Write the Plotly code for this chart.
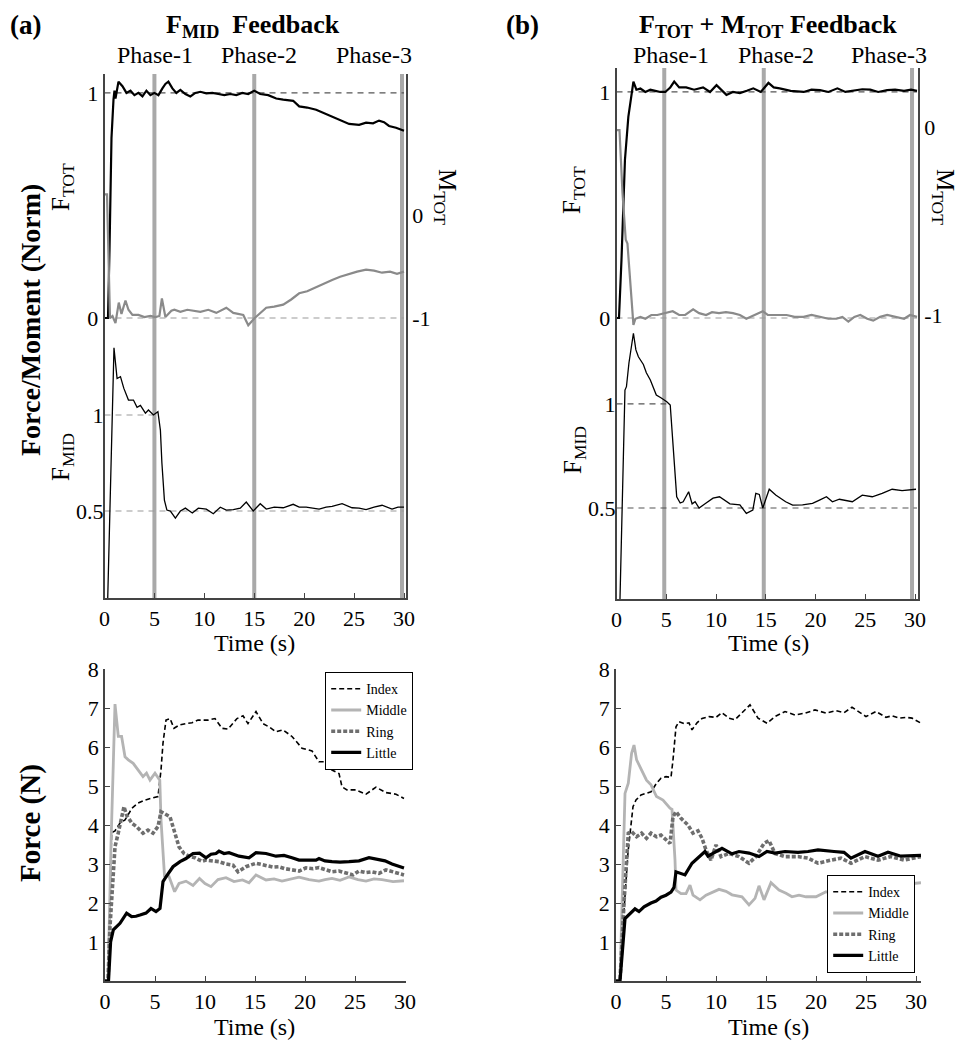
import plotly.graph_objects as go

# the page body keeps its default 8px margin, so the figure is drawn 8px in from the corner
OFF = 8
W, H = 972 - OFF, 1050 - OFF
FONT = "Liberation Serif"

# ---------------- data ----------------
# (a) F_MID feedback, top panel
a_ftot_t = [0, 0.35, 0.5, 0.7, 0.9, 1.0, 1.1, 1.4, 1.8, 2.2, 2.6, 3.0, 3.4, 3.8, 4.2, 4.6, 5.0, 5.4, 5.8, 6.1,
            6.4, 6.8, 7.2, 7.6, 8.1, 8.6, 9.1, 9.6, 10.2, 10.8, 11.4, 12.0, 12.6, 13.2, 13.8, 14.4, 15.0, 15.6,
            16.4, 17.2, 17.9, 18.9, 19.5, 20.3, 21.2, 22.0, 22.8, 23.6, 24.5, 25.5, 26.2, 26.9, 27.5, 28.0,
            28.5, 29.2, 30.0]
a_ftot = [0, 0, 0.3, 0.8, 0.97, 1.01, 0.975, 1.05, 1.03, 1.0, 1.01, 0.99, 1.0, 0.985, 1.01, 0.99, 1.0, 0.99,
          1.02, 1.04, 1.05, 1.02, 1.0, 1.013, 0.995, 0.984, 1.0, 1.005, 0.998, 1.0, 0.995, 0.99, 0.995, 0.99,
          1.0, 0.995, 1.01, 0.995, 0.99, 0.975, 0.97, 0.965, 0.94, 0.935, 0.925, 0.91, 0.895, 0.88, 0.862,
          0.858, 0.868, 0.865, 0.877, 0.87, 0.853, 0.845, 0.832]

a_mtot_t = [0, 0.25, 0.55, 0.8, 1.1, 1.43, 1.7, 2.1, 2.4, 2.8, 3.4, 4.0, 4.6, 5.1, 5.5, 5.75, 6.1, 6.7, 7.0,
            7.6, 8.3, 9.0, 9.6, 10.4, 11.2, 12.2, 12.9, 13.9, 14.4, 15.05, 15.6, 16.2, 17.0, 17.9, 18.7, 19.5,
            20.3, 21.2, 22.0, 22.8, 23.6, 24.5, 25.3, 26.2, 27.0, 27.8, 28.6, 29.3, 30.0]
a_mtot = [0.2, 0.2, -1.0, -0.98, -1.05, -0.85, -0.96, -0.83, -0.92, -0.97, -0.97, -0.99, -0.98, -0.99, -0.98,
          -0.81, -0.99, -0.93, -0.92, -0.94, -0.92, -0.93, -0.94, -0.92, -0.95, -0.9, -0.95, -0.97, -1.07,
          -1.0, -0.95, -0.9, -0.89, -0.87, -0.82, -0.76, -0.74, -0.7, -0.66, -0.63, -0.6, -0.57, -0.55,
          -0.53, -0.54, -0.56, -0.55, -0.57, -0.55]

a_fmid_t = [0, 0.3, 0.95, 1.26, 1.6, 1.93, 2.4, 2.9, 3.26, 3.6, 4.1, 4.4, 4.9, 5.35, 5.6, 5.75, 6.0, 6.25, 6.6,
            7.1, 7.6, 8.1, 8.8, 9.4, 10.2, 10.9, 11.6, 12.2, 12.9, 13.6, 14.2, 14.9, 15.6, 16.2, 17.0, 17.9,
            18.9, 19.5, 20.2, 21.0, 21.5, 22.2, 22.8, 23.8, 24.8, 25.5, 26.2, 27.0, 27.8, 28.8, 29.4, 30.0]
a_fmid = [0, 0, 1.35, 1.19, 1.2, 1.14, 1.078, 1.078, 1.04, 1.05, 1.01, 1.026, 1.0, 1.017, 0.92, 0.75, 0.557,
          0.505, 0.5, 0.463, 0.5, 0.515, 0.49, 0.515, 0.51, 0.486, 0.52, 0.505, 0.507, 0.515, 0.547, 0.5,
          0.538, 0.51, 0.52, 0.517, 0.535, 0.52, 0.52, 0.515, 0.51, 0.52, 0.524, 0.538, 0.517, 0.515, 0.507,
          0.52, 0.53, 0.51, 0.52, 0.52]

# (b) F_TOT + M_TOT feedback, top panel
b_ftot_t = [0, 0.25, 0.5, 0.69, 0.85, 1.19, 1.5, 1.7, 2.0, 2.4, 2.9, 3.4, 3.9, 4.4, 4.9, 5.4, 5.8, 6.3, 7.0,
            7.8, 8.7, 9.4, 10.05, 11.05, 11.7, 12.4, 13.1, 13.75, 14.5, 15.27, 15.8, 16.4, 17.5, 18.8, 19.6,
            20.45, 21.3, 22.2, 23.0, 23.9, 24.7, 25.5, 26.3, 27.2, 28.0, 28.9, 29.6, 30.2]
b_ftot = [0, 0, 0.257, 0.553, 0.7, 0.89, 0.995, 1.046, 1.01, 1.015, 1.0, 1.01, 1.005, 1.0, 1.0, 1.02, 1.046,
          1.02, 1.02, 1.01, 1.02, 1.0, 1.03, 0.987, 1.0, 0.995, 1.005, 1.016, 1.0, 1.04, 1.02, 1.016, 1.005,
          1.0, 1.01, 1.008, 1.0, 1.016, 1.0, 1.005, 1.012, 1.01, 1.0, 1.008, 1.01, 1.005, 1.01, 1.005]

b_mtot_t = [0, 0.3, 0.6, 0.93, 1.1, 1.3, 1.7, 1.9, 2.4, 2.9, 3.5, 4.1, 4.9, 5.65, 6.3, 6.9, 7.7, 8.3, 9.0, 9.6,
            10.3, 11.0, 11.7, 12.4, 13.05, 13.8, 14.7, 15.2, 15.7, 16.4, 17.1, 17.9, 18.8, 19.6, 20.45, 21.3,
            22.1, 22.7, 23.3, 23.9, 24.5, 25.2, 25.8, 26.5, 27.2, 28.0, 28.9, 29.5, 30.2]
b_mtot = [-0.016, -0.016, -0.35, -0.6, -0.62, -0.75, -1.053, -1.02, -1.01, -1.02, -1.0, -1.0, -0.99, -0.98,
          -1.0, -1.0, -0.97, -0.99, -1.0, -0.985, -0.99, -0.985, -0.99, -1.0, -1.02, -1.0, -0.98, -1.0, -1.0,
          -1.0, -1.0, -1.01, -1.01, -1.0, -1.01, -1.02, -1.02, -1.01, -1.035, -1.01, -1.0, -1.02, -1.03,
          -1.01, -1.0, -1.01, -1.02, -1.0, -1.01]

b_fmid_t = [0, 0.35, 0.85, 1.0, 1.25, 1.45, 1.7, 1.95, 2.2, 2.7, 3.0, 3.4, 3.7, 4.0, 4.5, 5.05, 5.4, 5.7, 6.05,
            6.4, 6.7, 7.25, 7.6, 7.9, 8.3, 8.9, 9.7, 10.35, 11.4, 12.4, 13.05, 13.7, 14.0, 14.35, 14.7, 15.35,
            16.0, 17.0, 17.7, 18.7, 19.7, 20.4, 21.1, 21.7, 22.4, 23.7, 24.7, 25.7, 26.7, 27.7, 28.7, 30.1]
b_fmid = [0, 0.06, 1.067, 1.083, 1.197, 1.26, 1.34, 1.26, 1.227, 1.19, 1.15, 1.115, 1.077, 1.043, 1.029,
          1.011, 0.995, 0.795, 0.554, 0.524, 0.53, 0.578, 0.52, 0.53, 0.5, 0.52, 0.547, 0.554, 0.52, 0.515,
          0.474, 0.49, 0.57, 0.565, 0.5, 0.59, 0.562, 0.53, 0.514, 0.515, 0.522, 0.538, 0.554, 0.53, 0.542,
          0.53, 0.562, 0.554, 0.57, 0.59, 0.583, 0.59]

# phase boundaries (s)
phase_a = [5.0, 15.0, 29.8]
phase_b = [4.8, 14.8, 29.7]
phase_labels = ["Phase-1", "Phase-2", "Phase-3"]
phase_label_x_a = [5.1, 15.5, 27.0]
phase_label_x_b = [5.5, 16.0, 27.4]

# (a) finger forces (N)
a_index_t = [0, 0.3, 0.66, 1.0, 1.5, 2.0, 2.7, 3.3, 4.0, 4.7, 5.3, 5.6, 5.8, 6.1, 6.5, 6.9, 7.4, 8.1, 8.7, 9.3,
             10.3, 11.0, 11.7, 12.3, 13.2, 13.8, 14.3, 15.1, 15.8, 16.5, 17.1, 17.8, 18.7, 19.7, 20.7, 21.4,
             22.0, 22.7, 23.4, 23.7, 24.2, 25.1, 26.1, 27.1, 28.1, 29.1, 29.9]
a_index = [0, 0, 3.8, 3.85, 4.05, 4.13, 4.43, 4.56, 4.64, 4.69, 4.73, 5.41, 6.1, 6.69, 6.73, 6.48, 6.56, 6.6,
           6.62, 6.69, 6.69, 6.73, 6.48, 6.46, 6.73, 6.8, 6.6, 6.91, 6.6, 6.5, 6.39, 6.44, 6.27, 5.97, 5.9,
           5.62, 5.62, 5.41, 5.32, 4.98, 4.9, 4.9, 4.79, 4.97, 4.83, 4.79, 4.68]

a_middle_t = [0, 0.3, 0.6, 1.0, 1.33, 1.66, 2.0, 2.33, 2.82, 3.3, 3.8, 4.15, 4.5, 5.0, 5.48, 5.6, 5.8, 5.95,
              6.4, 6.96, 7.4, 8.1, 8.8, 9.45, 10.0, 10.6, 11.3, 12.1, 12.9, 13.75, 14.4, 15.1, 16.1, 16.9,
              17.7, 18.5, 19.4, 20.4, 21.4, 22.0, 22.7, 23.5, 24.4, 25.3, 26.1, 26.9, 27.7, 28.8, 29.9]
a_middle = [0, 0, 3.5, 7.1, 6.27, 6.27, 5.75, 5.67, 5.58, 5.41, 5.24, 5.33, 5.15, 5.33, 5.15, 4.13, 3.28,
            2.7, 2.68, 2.29, 2.5, 2.56, 2.45, 2.63, 2.5, 2.42, 2.6, 2.65, 2.55, 2.59, 2.52, 2.72, 2.59, 2.62,
            2.56, 2.6, 2.66, 2.6, 2.56, 2.6, 2.63, 2.58, 2.67, 2.6, 2.56, 2.62, 2.6, 2.55, 2.57]

a_ring_t = [0, 0.3, 0.5, 1.0, 1.33, 1.66, 1.9, 2.16, 2.7, 3.15, 3.8, 4.3, 4.8, 5.3, 5.6, 5.9, 6.5, 6.9, 7.4,
            7.9, 8.4, 9.0, 9.7, 10.1, 10.7, 11.4, 12.1, 12.8, 13.3, 14.1, 15.1, 16.1, 16.8, 17.4, 18.0, 18.7,
            19.4, 20.1, 20.8, 21.4, 22.0, 22.7, 23.4, 24.1, 24.8, 25.4, 26.1, 26.7, 27.4, 28.1, 29.0, 29.9]
a_ring = [0, 0, 1.4, 3.44, 3.8, 4.21, 4.47, 4.25, 4.04, 3.96, 3.79, 3.87, 3.79, 3.96, 4.34, 4.3, 4.21, 3.87,
          3.44, 3.27, 3.2, 3.16, 3.07, 3.1, 3.08, 3.06, 3.0, 2.97, 2.8, 2.93, 3.02, 2.97, 2.92, 2.93, 2.88,
          2.85, 2.82, 2.9, 2.88, 2.91, 2.86, 2.8, 2.82, 2.76, 2.72, 2.82, 2.78, 2.8, 2.76, 2.85, 2.78, 2.72]

a_little_t = [0, 0.35, 0.56, 0.83, 1.5, 2.16, 2.66, 3.1, 3.5, 4.1, 4.6, 5.1, 5.5, 5.8, 6.1, 6.8, 7.5, 8.1,
              8.8, 9.45, 10.1, 10.6, 11.1, 11.4, 11.9, 12.4, 13.4, 14.4, 15.1, 16.1, 17.1, 17.9, 18.7, 19.4,
              20.2, 21.1, 21.4, 22.0, 22.7, 23.5, 24.4, 25.4, 26.4, 27.4, 28.0, 28.7, 29.9]
a_little = [0, 0, 1.0, 1.31, 1.48, 1.74, 1.65, 1.66, 1.69, 1.74, 1.86, 1.78, 1.86, 2.55, 2.67, 2.93, 3.06,
            3.14, 3.27, 3.28, 3.16, 3.25, 3.27, 3.33, 3.27, 3.29, 3.2, 3.16, 3.29, 3.27, 3.2, 3.22, 3.16, 3.1,
            3.1, 3.1, 3.14, 3.08, 3.06, 3.05, 3.06, 3.08, 3.16, 3.1, 3.08, 3.0, 2.9]

# (b) finger forces (N)
b_index_t = [0, 0.4, 0.8, 1.2, 1.7, 2.0, 2.5, 3.0, 3.5, 4.05, 4.5, 5.0, 5.5, 5.7, 6.0, 6.3, 6.8, 7.3, 7.6, 8.1,
             8.6, 9.3, 10.0, 10.6, 11.3, 11.9, 12.6, 13.4, 14.2, 15.1, 15.9, 16.9, 17.9, 18.9, 19.9, 21.0,
             22.0, 22.8, 23.6, 24.3, 25.0, 26.0, 27.0, 27.6, 28.3, 29.0, 29.6, 30.5]
b_index = [0, 0, 1.8, 3.3, 4.47, 4.64, 4.77, 4.81, 4.85, 5.07, 5.2, 5.24, 5.22, 5.67, 6.52, 6.65, 6.6, 6.62,
           6.44, 6.62, 6.73, 6.78, 6.76, 6.88, 6.74, 6.7, 6.87, 7.08, 6.74, 6.61, 6.78, 6.91, 6.82, 6.87,
           6.95, 6.87, 6.93, 6.88, 7.02, 6.9, 6.78, 6.91, 6.76, 6.8, 6.74, 6.76, 6.74, 6.61]

b_middle_t = [0, 0.4, 0.9, 1.23, 1.56, 1.8, 2.06, 2.56, 3.05, 3.5, 4.05, 4.7, 5.4, 5.6, 5.9, 6.0, 6.5, 7.0,
              7.4, 7.7, 8.4, 9.0, 9.7, 10.3, 11.0, 11.6, 12.6, 13.3, 13.9, 14.3, 14.8, 15.5, 16.3, 17.0, 17.6,
              18.3, 19.0, 20.0, 21.0, 21.7, 22.3, 23.0, 23.7, 24.4, 25.0, 25.7, 26.3, 27.0, 27.6, 28.3, 29.0,
              29.7, 30.5]
b_middle = [0, 0, 4.81, 5.07, 5.84, 6.05, 5.67, 5.41, 5.15, 5.03, 4.73, 4.64, 4.43, 4.4, 3.1, 2.33, 2.24,
            2.24, 2.46, 2.2, 2.08, 2.2, 2.28, 2.35, 2.3, 2.21, 2.16, 1.95, 2.12, 2.44, 2.08, 2.52, 2.33, 2.25,
            2.16, 2.2, 2.16, 2.16, 2.29, 2.22, 2.24, 2.3, 2.24, 2.3, 2.38, 2.35, 2.42, 2.4, 2.46, 2.5, 2.57,
            2.5, 2.52]

b_ring_t = [0, 0.4, 0.8, 1.23, 1.56, 2.06, 2.56, 3.05, 3.5, 4.05, 4.5, 5.0, 5.4, 5.7, 6.0, 6.5, 7.2, 7.7, 8.2,
            8.6, 9.0, 9.5, 10.0, 10.5, 11.3, 12.3, 13.3, 14.0, 14.8, 15.3, 15.9, 16.9, 18.2, 19.2, 20.2, 21.5,
            22.5, 23.5, 24.9, 26.2, 27.5, 28.8, 30.5]
b_ring = [0, 0, 2.0, 3.79, 3.83, 3.7, 3.79, 3.66, 3.79, 3.7, 3.74, 3.62, 3.53, 4.21, 4.34, 4.17, 4.0, 3.79,
          3.85, 3.66, 3.36, 3.1, 3.49, 3.19, 3.27, 3.19, 3.02, 3.19, 3.53, 3.6, 3.27, 3.19, 3.19, 3.15, 3.02,
          3.1, 3.15, 3.02, 3.19, 3.1, 3.19, 3.1, 3.19]

b_little_t = [0, 0.4, 0.9, 1.3, 1.9, 2.3, 2.8, 3.5, 4.0, 4.5, 5.0, 5.5, 5.8, 6.0, 6.6, 6.9, 7.6, 8.2, 8.9, 9.2,
              9.9, 10.6, 11.6, 12.3, 13.3, 14.3, 15.1, 15.9, 16.9, 18.2, 19.2, 20.2, 21.8, 22.8, 23.5, 24.9,
              26.2, 27.2, 28.5, 29.5, 30.5]
b_little = [0, 0, 1.6, 1.7, 1.85, 1.78, 1.9, 2.0, 2.05, 2.15, 2.2, 2.28, 2.4, 2.8, 2.76, 2.72, 3.02, 3.15,
            3.32, 3.2, 3.3, 3.4, 3.26, 3.32, 3.28, 3.19, 3.32, 3.28, 3.32, 3.3, 3.32, 3.36, 3.32, 3.3, 3.15,
            3.32, 3.2, 3.3, 3.2, 3.22, 3.22]

time_ticks = [0, 5, 10, 15, 20, 25, 30]
force_ticks = [1, 2, 3, 4, 5, 6, 7, 8]


# page pixel -> paper fraction
def px(x):
    return (x - OFF) / W


def py(y):
    return 1 - (y - OFF) / H


AX = "#444444"
TICKFONT = dict(family=FONT, size=22, color="black")

fig = go.Figure()

# ---- top panels ----
top = [
    dict(xa="x", f="y", m="y2", d="y3", ft=(a_ftot_t, a_ftot), mt=(a_mtot_t, a_mtot), fm=(a_fmid_t, a_fmid)),
    dict(xa="x2", f="y4", m="y5", d="y6", ft=(b_ftot_t, b_ftot), mt=(b_mtot_t, b_mtot), fm=(b_fmid_t, b_fmid)),
]
for p in top:
    fig.add_trace(go.Scatter(x=p["mt"][0], y=p["mt"][1], xaxis=p["xa"], yaxis=p["m"], mode="lines",
                             line=dict(color="#8a8a8a", width=2.2), showlegend=False))
    fig.add_trace(go.Scatter(x=p["ft"][0], y=p["ft"][1], xaxis=p["xa"], yaxis=p["f"], mode="lines",
                             line=dict(color="black", width=2.2), showlegend=False))
    fig.add_trace(go.Scatter(x=p["fm"][0], y=p["fm"][1], xaxis=p["xa"], yaxis=p["d"], mode="lines",
                             line=dict(color="black", width=1.3), showlegend=False))

# ---- bottom panels ----
fingers = [
    ("Index", dict(color="black", width=1.6, dash="5px,3px")),
    ("Middle", dict(color="#b4b4b4", width=2.8)),
    ("Ring", dict(color="#6e6e6e", width=3.6, dash="4px,2px")),
    ("Little", dict(color="black", width=3.2)),
]
bottom = [
    ("x3", "y7", "legend", [(a_index_t, a_index), (a_middle_t, a_middle), (a_ring_t, a_ring),
                            (a_little_t, a_little)]),
    ("x4", "y8", "legend2", [(b_index_t, b_index), (b_middle_t, b_middle), (b_ring_t, b_ring),
                             (b_little_t, b_little)]),
]
for xa, ya, lg, series in bottom:
    for (name, style), (t, v) in zip(fingers, series):
        fig.add_trace(go.Scatter(x=t, y=v, xaxis=xa, yaxis=ya, mode="lines", name=name, line=style,
                                 legend=lg))

# ---- shapes: phase bars and reference lines ----
shapes = []
for xa, ya, bars in [("x", "y", phase_a), ("x2", "y4", phase_b)]:
    for b in bars:
        shapes.append(dict(type="line", xref=xa, yref=ya + " domain", x0=b, x1=b, y0=0, y1=1,
                           line=dict(color="#a9a9a9", width=4), layer="below"))

refs = [
    ("x", "y", 0, 30, 1, "#555555"), ("x", "y", 0, 30, 0, "#9a9a9a"),
    ("x", "y3", 0, 5, 1, "#9a9a9a"), ("x", "y3", 0, 30, 0.5, "#9a9a9a"),
    ("x2", "y4", 0, 30.2, 1, "#555555"), ("x2", "y4", 0, 30.2, 0, "#9a9a9a"),
    ("x2", "y6", 0, 5, 1, "#555555"), ("x2", "y6", 0, 30.2, 0.5, "#555555"),
]
for xa, ya, x0, x1, yv, col in refs:
    shapes.append(dict(type="line", xref=xa, yref=ya, x0=x0, x1=x1, y0=yv, y1=yv,
                       line=dict(color=col, width=1.2, dash="6px,5px"), layer="below"))


# ---- axes ----
def xaxis(dom, rng, anchor):
    return dict(domain=dom, range=rng, anchor=anchor, showline=True, linecolor=AX, linewidth=1.5,
                ticks="inside", ticklen=5, tickcolor=AX, tickvals=time_ticks, tickfont=TICKFONT,
                showgrid=False, zeroline=False, automargin=False)


def yaxis(dom=None, rng=None, side="left", overlay=None, anchor=None, vals=None, text=None,
          line=False, ticks=""):
    d = dict(range=rng, side=side, anchor=anchor, showline=line, linecolor=AX, linewidth=1.5,
             tickvals=vals, ticktext=text, tickfont=TICKFONT, showgrid=False, zeroline=False,
             ticks=ticks, ticklen=5, tickcolor=AX, automargin=False)
    if dom is not None:
        d["domain"] = dom
    if overlay:
        d["overlaying"] = overlay
    return d


ya_top = [py(598), py(74)]
yb_top = [py(599), py(68)]
y_bot = [py(981), py(669)]

legend_style = dict(xanchor="right", bgcolor="white", bordercolor="black", borderwidth=1.2,
                    tracegroupgap=0, font=dict(family=FONT, size=14, color="black"))

fig.update_layout(
    width=W, height=H, autosize=False, margin=dict(l=0, r=0, t=0, b=0, pad=0),
    paper_bgcolor="white", plot_bgcolor="white",
    font=dict(family=FONT, color="black"),
    xaxis=xaxis([px(104.5), px(406)], [0, 30.2], "y"),
    yaxis=yaxis(ya_top, [-1.244, 1.084], anchor="x", vals=[0, 1], text=["0", "1"], line=True),
    yaxis2=yaxis(None, [-3.718, 1.369], side="right", overlay="y", anchor="x", vals=[-1, 0],
                 text=["-1", "0"], line=True),
    yaxis3=yaxis(None, [0.047, 2.776], overlay="y", anchor="x", vals=[0.5, 1], text=["0.5", "1"]),
    xaxis2=xaxis([px(616.5), px(918)], [0, 30.3], "y4"),
    yaxis4=yaxis(yb_top, [-1.243, 1.106], anchor="x2", vals=[0, 1], text=["0", "1"], line=True),
    yaxis5=yaxis(None, [-2.511, 0.314], side="right", overlay="y4", anchor="x2", vals=[-1, 0],
                 text=["-1", "0"], line=True),
    yaxis6=yaxis(None, [0.0625, 2.615], overlay="y4", anchor="x2", vals=[0.5, 1], text=["0.5", "1"]),
    xaxis3=xaxis([px(105), px(406)], [0, 30.1], "y7"),
    yaxis7=yaxis(y_bot, [0, 8], anchor="x3", vals=force_ticks, line=True, ticks="inside"),
    xaxis4=xaxis([px(616), px(921)], [0, 30.5], "y8"),
    yaxis8=yaxis(y_bot, [0, 8], anchor="x4", vals=force_ticks, line=True, ticks="inside"),
    shapes=shapes,
    legend=dict(x=px(413), y=py(672), yanchor="top", **legend_style),
    legend2=dict(x=px(915), y=py(973), yanchor="bottom", **legend_style),
)

# ---- text ----
ann = []


def text(x, y, s, size, angle=0, anchor="center", yanchor="middle"):
    ann.append(dict(x=px(x), y=py(y), xref="paper", yref="paper", text=s, showarrow=False,
                    textangle=angle, xanchor=anchor, yanchor=yanchor,
                    font=dict(family=FONT, size=size, color="black")))


# headings sit against the top edge of the figure
text(8, 8, "<b>(a)</b>", 27, anchor="left", yanchor="top")
text(253, 8, "<b>F<sub>MID</sub>  Feedback</b>", 26, yanchor="top")
text(504, 8, "<b>(b)</b>", 27, anchor="left", yanchor="top")
text(768, 8, "<b>F<sub>TOT</sub> + M<sub>TOT</sub> Feedback</b>", 26, yanchor="top")
text(30, 320, "<b>Force/Moment (Norm)</b>", 28, angle=-90)
text(30, 823, "<b>Force (N)</b>", 29, angle=-90)
for x, y in [(62, 187), (574, 190)]:
    text(x, y, "F<sub>TOT</sub>", 25, angle=-90)
for x, y in [(62, 457), (574, 450)]:
    text(x, y, "F<sub>MID</sub>", 25, angle=-90)
for x, y in [(446, 197), (944, 197)]:
    text(x, y, "M<sub>TOT</sub>", 25, angle=90)
for x, y in [(255, 643), (768, 643), (255, 1027), (768, 1027)]:
    text(x, y, "Time (s)", 24)

for xa, xs in [("x", phase_label_x_a), ("x2", phase_label_x_b)]:
    for lab, xv in zip(phase_labels, xs):
        ann.append(dict(x=xv, y=py(55), xref=xa, yref="paper", text=lab, showarrow=False,
                        xanchor="center", yanchor="middle", font=dict(family=FONT, size=24, color="black")))

fig.update_layout(annotations=ann)

fig.write_html("out.html")
